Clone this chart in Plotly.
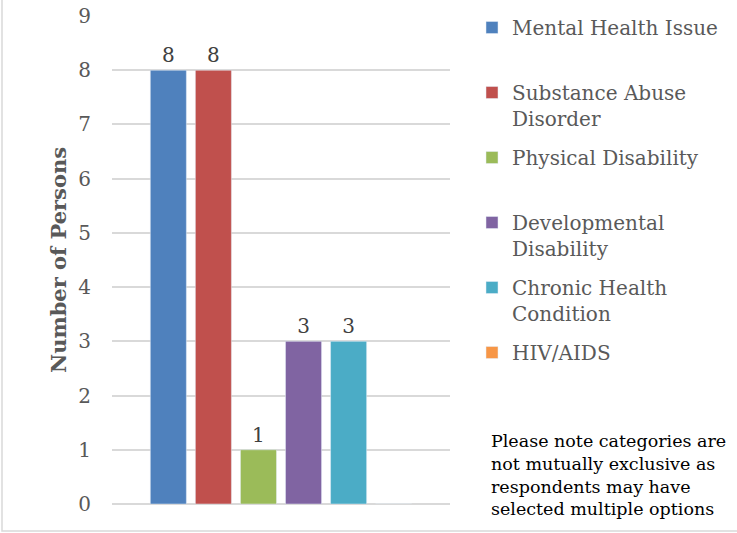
import plotly.graph_objects as go

categories = ["Mental Health Issue", "Substance Abuse Disorder", "Physical Disability",
              "Developmental Disability", "Chronic Health Condition", "HIV/AIDS"]
legend_labels = ["Mental Health Issue<br>\u00a0", "Substance Abuse<br>Disorder",
                 "Physical Disability<br>\u00a0", "Developmental<br>Disability",
                 "Chronic Health<br>Condition", "HIV/AIDS"]
values = [8, 8, 1, 3, 3, 0]
colors = ["#4F81BD", "#C0504D", "#9BBB59", "#8064A2", "#4BACC6", "#F79646"]
y_ticks = list(range(0, 10))
note = ("Please note categories are<br>not mutually exclusive as<br>"
        "respondents may have<br>selected multiple options")

FONT = "DejaVu Serif"

fig = go.Figure()
for i, (lab, v, c) in enumerate(zip(legend_labels, values, colors)):
    fig.add_trace(go.Bar(
        x=[""], y=[v], name=lab, marker_color=c, legendgroup=f"g{i}",
        text=[str(v) if v else ""], textposition="outside",
        textfont=dict(family=FONT, size=20, color="#404040"),
        cliponaxis=False,
    ))

L, R, T, B = 112, 450, 16, 504
W, H = 737, 533
pw, ph = R - L, B - T

def px(x):
    return (x - L) / pw

def py(y):
    return (B - y) / ph

fig.update_layout(
    width=W, height=H,
    margin=dict(l=L, r=W - R, t=T, b=H - B, pad=0, autoexpand=False),
    paper_bgcolor="white", plot_bgcolor="white",
    barmode="group", bargap=0.2, bargroupgap=0.2,
    font=dict(family=FONT, color="#595959"),
    showlegend=True,
    legend=dict(
        x=px(472), y=py(8), xanchor="left", yanchor="top",
        font=dict(family=FONT, size=20, color="#595959"),
        tracegroupgap=10, valign="top", traceorder="grouped",
        bgcolor="rgba(0,0,0,0)", maxheight=1.0,
    ),
    xaxis=dict(showticklabels=False, showgrid=False, zeroline=False, showline=False,
               ticks=""),
    yaxis=dict(range=[0, 9], tickvals=y_ticks, showgrid=True, gridcolor="#D9D9D9",
               gridwidth=1.5, zeroline=True, zerolinecolor="#D9D9D9", zerolinewidth=1.5,
               showline=False, ticks="", ticklabelstandoff=20,
               tickfont=dict(family=FONT, size=20, color="#595959"),
               title=dict(text="<b>Number of Persons</b>", standoff=5,
                          font=dict(family=FONT, size=21, color="#595959"))),
    annotations=[dict(
        text=note, x=px(489), y=py(429), xref="paper", yref="paper",
        xanchor="left", yanchor="top", align="left", showarrow=False,
        font=dict(family=FONT, size=17.5, color="#000000"),
    )],
    shapes=[dict(type="rect", xref="paper", yref="paper",
                 x0=px(2), x1=px(745), y0=py(531), y1=py(-10),
                 line=dict(color="#D9D9D9", width=1.5))],
)

fig.write_html("out.html", config={"displayModeBar": False},
               post_script="document.body.style.margin='0';document.body.style.overflow='hidden';")
